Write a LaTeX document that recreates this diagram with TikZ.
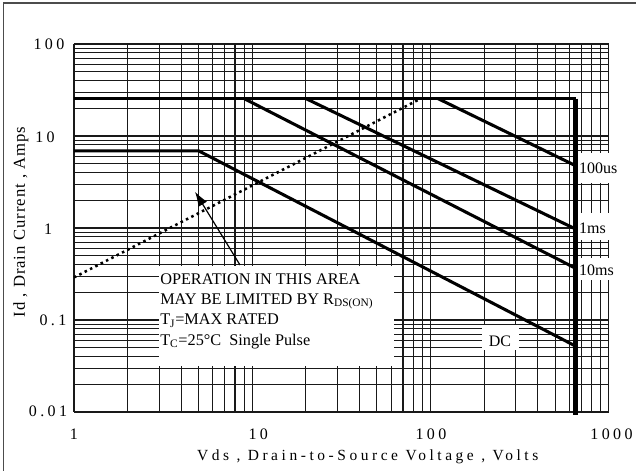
\documentclass[tikz,border=0pt]{standalone}
\usepackage{fontspec}
\setmainfont{Liberation Serif}
\usetikzlibrary{arrows.meta}
\tikzset{
  gridline/.style = {line width=0.8pt, black!90},
  limit/.style = {line width=2.3pt},
  cutout/.style = {fill=white},
  ticklabel/.style = {font=\fontsize{12}{14}\selectfont\addfontfeature{LetterSpace=21}, inner sep=0pt},
  curvelabel/.style = {font=\fontsize{12}{14}\selectfont, inner sep=0pt, anchor=west},
}

\begin{document}
\begin{tikzpicture}[x=133.725pt, y=69pt,
                    declare function={lv(\v)=log10(\v); li(\i)=log10(\i)+2;}]
\useasboundingbox (-0.41503,-0.64130) rectangle (3.15199,4.47826);
% frame
\draw[line width=1pt, black!70] (-0.3965,-0.6413) -- (-0.3965,4.4467) -- (3.152,4.4467);
% log grid
\foreach \d in {0,1,2}
  \foreach \m in {1,...,9}
    \draw[gridline] ({\d+log10(\m)},0) -- ++(0,4);
\draw[gridline] (3,0) -- (3,4);
\foreach \d in {0,1,2,3}
  \foreach \m in {1,...,9}
    \draw[gridline] (0,{\d+log10(\m)}) -- ++(3,0);
\draw[gridline] (0,4) -- (3,4);
% white cut-outs behind labels
\fill[cutout] (0.474,0.5) rectangle (1.795,1.587);
\fill[cutout] (2.288,0.674) rectangle (2.496,0.946);
\fill[cutout] (2.8266,2.489) rectangle (3.02,2.815);
\fill[cutout] (2.8266,1.870) rectangle (3.02,2.163);
\fill[cutout] (2.8266,1.435) rectangle (3.02,1.674);
% limits
\draw[limit] (0,{li(25.5)}) -- ({lv(650)},{li(25.5)});
\draw[line width=3.2pt] ({lv(650)},{li(25.5)}) -- ({lv(650)},-0.03);
\draw[limit] (0,{li(6.9)}) -- ({lv(5)},{li(6.9)}) -- ({lv(650)},{li(0.052)});
\draw[limit] ({lv(9)},{li(25.5)}) -- ({lv(650)},{li(0.365)});
\draw[limit] ({lv(20)},{li(25.5)}) -- ({lv(650)},{li(0.975)});
\draw[limit] ({lv(110)},{li(25.5)}) -- ({lv(650)},{li(4.76)});
\draw[line width=1.9pt, dash pattern=on 1.9pt off 2.6pt] (0,{li(0.29)}) -- ({lv(88)},{li(25.5)});
% note and arrow
\coordinate (arrowtail) at (0.931,1.598);
\coordinate (arrowtip) at (0.6786,2.3946);
\draw[-{Latex[length=11pt,width=7.5pt]}, line width=0.9pt] (arrowtail) -- (arrowtip);
\node (areanote) [anchor=north west, inner sep=0pt, align=left,
                  font=\fontsize{12.2}{15.3}\selectfont] at (0.4823,1.511)
  {OPERATION IN THIS AREA\\MAY BE LIMITED BY R\textsubscript{DS(ON)}\\
   T\textsubscript{J}=MAX RATED\\T\textsubscript{C}=25°C\ \ Single Pulse};
\node (dclabel) [font=\fontsize{12}{14}\selectfont, inner sep=0pt] at (2.389,0.772) {DC};
\node (lbl100us) [curvelabel] at (2.832,2.652) {100us};
\node (lbl1ms) [curvelabel] at (2.832,2.0) {1ms};
\node (lbl10ms) [curvelabel] at (2.832,1.543) {10ms};
% axes
\node (ytick100) [ticklabel] at (-0.1402,4.0) {100};
\node (ytick10) [ticklabel] at (-0.1626,2.989) {10};
\node (ytick1) [ticklabel] at (-0.1458,1.989) {1};
\node (ytick01) [ticklabel] at (-0.1178,1.0) {0.1};
\node (ytick001) [ticklabel] at (-0.1458,0.011) {0.01};
\node (xtick1) [ticklabel] at (0,-0.2446) {1};
\node (xtick10) [ticklabel] at (1.0337,-0.2446) {10};
\node (xtick100) [ticklabel] at (2.0022,-0.2446) {100};
\node (xtick1000) [ticklabel] at (3.0146,-0.2446) {1000};
\node (xlabel) [font=\fontsize{11.6}{14}\selectfont\addfontfeature{LetterSpace=23}, inner sep=0pt]
  at (1.6472,-0.4837) {Vds , Drain-to-Source Voltage , Volts};
\node (ylabel) [rotate=90, font=\fontsize{12.5}{14}\selectfont\addfontfeature{LetterSpace=6}, inner sep=0pt]
  at (-0.2973,2.0652) {Id , Drain Current , Amps};
\end{tikzpicture}
\end{document}
